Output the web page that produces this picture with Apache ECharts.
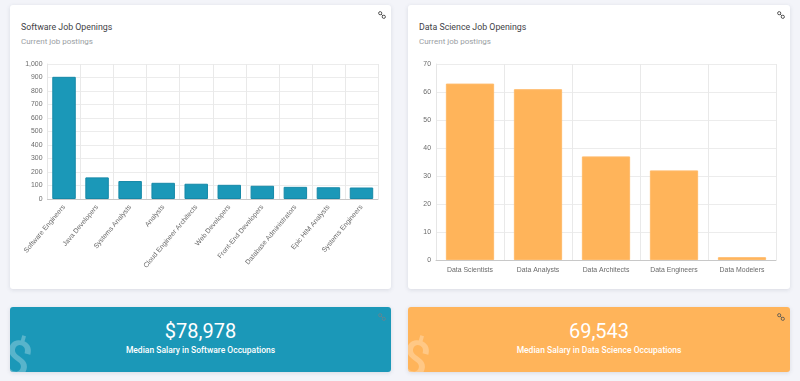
<!DOCTYPE html>
<html>
<head>
<meta charset="utf-8">
<script src="https://cdn.jsdelivr.net/npm/echarts@6/dist/echarts.min.js"></script>
<style>
html, body { margin: 0; padding: 0; width: 800px; height: 381px; overflow: hidden; background: #f3f4f9; font-family: Roboto, sans-serif; }
.card { position: absolute; background: #fff; border-radius: 3px; box-shadow: 0 1px 4px rgba(60,70,90,.14); overflow: hidden; }
.title { position: absolute; left: 11px; top: 16px; font-size: 8.8px; line-height: 12px; color: #3f4247; white-space: nowrap; }
.sub { position: absolute; left: 11px; top: 31px; font-size: 8px; line-height: 12px; color: #9a9ea3; white-space: nowrap; }
.chart { position: absolute; }
.link { position: absolute; right: 5px; top: 6px; width: 8px; height: 8px; }
.stat { text-align: center; color: #fff; }
.stat .num { position: absolute; left: 0; right: 0; top: 12px; font-size: 20px; line-height: 24px; font-weight: 400; }
.stat .lab { position: absolute; left: 0; right: 0; top: 37px; font-size: 8.5px; line-height: 12px; font-weight: 500; }
.stat .dollar { position: absolute; left: -7px; top: 22px; font-size: 50px; line-height: 60px; font-weight: 500; color: rgba(255,255,255,.27); transform: rotate(15deg); }
</style>
</head>
<body>
<div class="card" style="left:10px;top:5px;width:381px;height:284px">
    <div class="title">Software Job Openings</div>
    <div class="sub">Current job postings</div>
    <svg class="link" viewBox="0 0 8 8"><g fill="none" stroke="#555" stroke-width="1"><circle cx="2.2" cy="2.2" r="1.6"/><circle cx="5.8" cy="5.8" r="1.6"/><path d="M3 3L5 5"/></g></svg>
    <div class="chart" id="table1" style="left:0;top:50px;width:381px;height:234px"></div>
</div>
<div class="card" style="left:408px;top:5px;width:382px;height:284px">
    <div class="title">Data Science Job Openings</div>
    <div class="sub">Current job postings</div>
    <svg class="link" viewBox="0 0 8 8"><g fill="none" stroke="#555" stroke-width="1"><circle cx="2.2" cy="2.2" r="1.6"/><circle cx="5.8" cy="5.8" r="1.6"/><path d="M3 3L5 5"/></g></svg>
    <div class="chart" id="table2" style="left:0;top:50px;width:382px;height:234px"></div>
</div>
<div class="card stat" style="left:10px;top:307px;width:381px;height:65px;background:#1b98b8">
    <div class="dollar">$</div>
    <div class="num">$78,978</div>
    <div class="lab">Median Salary in Software Occupations</div>
    <svg class="link" viewBox="0 0 8 8"><g fill="none" stroke="#5f8794" stroke-width="1"><circle cx="2.2" cy="2.2" r="1.6"/><circle cx="5.8" cy="5.8" r="1.6"/><path d="M3 3L5 5"/></g></svg>
</div>
<div class="card stat" style="left:408px;top:307px;width:382px;height:65px;background:#ffb45a">
    <div class="dollar">$</div>
    <div class="num">69,543</div>
    <div class="lab">Median Salary in Data Science Occupations</div>
    <svg class="link" viewBox="0 0 8 8"><g fill="none" stroke="#6b6255" stroke-width="1"><circle cx="2.2" cy="2.2" r="1.6"/><circle cx="5.8" cy="5.8" r="1.6"/><path d="M3 3L5 5"/></g></svg>
</div>
<script>
// chart data
var softwareJobs = ['Software Engineers', 'Java Developers', 'Systems Analysts', 'Analysts', 'Cloud Engineer Architects', 'Web Developers', 'Front-End Developers', 'Database Administrators', 'Epic HIM Analysts', 'Systems Engineers'];
var softwareCounts = [905, 160, 133, 120, 113, 105, 98, 90, 87, 85];
var dataJobs = ['Data Scientists', 'Data Analysts', 'Data Architects', 'Data Engineers', 'Data Modelers'];
var dataCounts = [63, 61, 37, 32, 1];

function makeOption(cats, vals, yMax, yStep, color, border, rotate, grid, barPct) {
    return {
        animation: false,
        grid: grid,
        xAxis: {
            type: 'category',
            data: cats,
            axisLine: { lineStyle: { color: '#c8c8c8' } },
            axisTick: { length: 6, lineStyle: { color: '#e6e6e6' } },
            splitLine: { show: true, lineStyle: { color: '#e9e9e9' } },
            axisLabel: { interval: 0, rotate: rotate, color: '#6a6a6a', fontSize: 6.9, fontFamily: 'Liberation Sans', margin: 7, hideOverlap: false }
        },
        yAxis: {
            type: 'value',
            min: 0,
            max: yMax,
            interval: yStep,
            axisLine: { show: true, lineStyle: { color: '#e6e6e6' } },
            axisTick: { show: false },
            splitLine: { lineStyle: { color: '#ececec' } },
            axisLabel: {
                color: '#6a6a6a', fontSize: 6.9, fontFamily: 'Liberation Sans', margin: 5,
                formatter: function (v) { return v.toLocaleString('en-US'); }
            }
        },
        series: [{
            type: 'bar',
            data: vals,
            barWidth: barPct,
            itemStyle: { color: color, borderColor: border, borderWidth: 1 }
        }]
    };
}

var _table1 = echarts.init(document.getElementById('table1'));
var _table2 = echarts.init(document.getElementById('table2'));
_table1.setOption(makeOption(softwareJobs, softwareCounts, 1000, 100, '#1b98b8', '#1689a8', 50, { left: 37.5, right: 13, top: 9, height: 135, outerBoundsMode: 'none' }, '71%'));
_table2.setOption(makeOption(dataJobs, dataCounts, 70, 10, '#ffb45a', '#ffbb6b', 0, { left: 28, right: 14, top: 9, height: 196, outerBoundsMode: 'none' }, '71%'));
</script>
</body>
</html>
